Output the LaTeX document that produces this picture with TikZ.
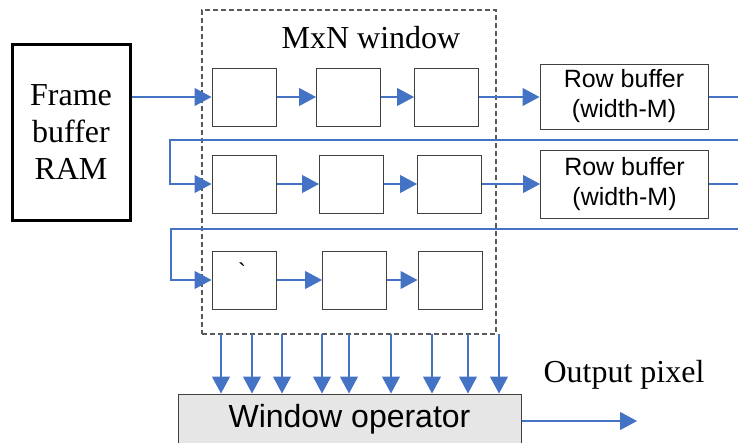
\documentclass[tikz,border=0pt]{standalone}
\usepackage{fontspec}
\setmainfont{Liberation Serif}
\setsansfont{Liberation Sans}
\newfontfamily\ticksans{Liberation Sans}
\usetikzlibrary{arrows.meta}
\definecolor{wire}{HTML}{4472C4}
\definecolor{edge}{HTML}{404040}
\definecolor{dashc}{HTML}{5A5A5A}
\definecolor{opfill}{HTML}{E6E6E6}
\tikzset{
  cell/.style={draw=edge, line width=1pt, minimum width=64pt, minimum height=58pt, inner sep=0pt},
  rowbuf/.style={draw=edge, line width=1pt, minimum width=168pt, minimum height=65pt, inner sep=0pt,
    align=center, font=\sffamily\fontsize{25}{30}\selectfont},
  wire/.style={draw=wire, line width=1.1pt},
  arr/.style={wire, -{Triangle[length=17pt,width=18pt]}},
  serifbig/.style={font=\rmfamily\fontsize{32}{37}\selectfont}
}
\begin{document}
\begin{tikzpicture}[x=1pt,y=-1pt]
\clip (0,0) rectangle (738,442);
\fill[white] (0,0) rectangle (738,442);

% frame buffer
\node[draw=black, line width=3pt, minimum width=118pt, minimum height=176pt, inner sep=0pt,
      align=center, serifbig] (frame) at (71,132) {Frame\\buffer\\RAM};

% window region
\node[draw=dashc, line width=1.1pt, dash pattern=on 5pt off 3pt, minimum width=294pt,
      minimum height=324pt, inner sep=0pt] (win) at (349,172) {};
\node[serifbig, inner sep=0pt] (title) at (371,38) {MxN window};

% window cells
\node[cell] (r1c1) at (244,97) {};
\node[cell] (r1c2) at (348.5,97) {};
\node[cell] (r1c3) at (446.5,97) {};
\node[cell] (r2c1) at (244,184) {};
\node[cell] (r2c2) at (351.5,184) {};
\node[cell] (r2c3) at (449.5,184) {};
\node[cell] (r3c1) at (244,280) {};
\node[cell] (r3c2) at (354.5,280) {};
\node[cell] (r3c3) at (450,280) {};
\node[font=\ticksans\fontsize{24}{24}\selectfont, inner sep=0pt] (tick) at (242,272) {`};

% row buffers
\node[rowbuf] (rb1) at (624,96.5) {Row buffer\\(width-M)};
\node[rowbuf, minimum height=68pt] (rb2) at (624.5,184) {Row buffer\\(width-M)};

% window operator
\node[draw=edge, line width=1pt, fill=opfill, minimum width=343pt, minimum height=51pt, inner sep=0pt,
      font=\sffamily\fontsize{32}{36}\selectfont] (op) at (349.5,419.5) {Window operator};
\node[serifbig, inner sep=0pt] (outlbl) at (624,374.5) {Output pixel};

% data path, row 1
\draw[arr] (frame.east |- r1c1.west) -- (r1c1.west);
\draw[arr] (r1c1.east) -- (r1c2.west);
\draw[arr] (r1c2.east) -- (r1c3.west);
\draw[arr] (r1c3.east) -- (r1c3.east -| rb1.west);
\coordinate (o1) at (738,97);
\draw[wire] (rb1.east |- o1) -- (o1);

% feedback into row 2
\coordinate (f1) at (738,140);
\coordinate (k1) at (170,140);
\draw[arr] (f1) -- (k1) |- (r2c1.west);
\draw[arr] (r2c1.east) -- (r2c2.west);
\draw[arr] (r2c2.east) -- (r2c3.west);
\draw[arr] (r2c3.east) -- (r2c3.east -| rb2.west);
\coordinate (o2) at (738,184);
\draw[wire] (rb2.east |- o2) -- (o2);

% feedback into row 3
\coordinate (f2) at (738,229);
\coordinate (k2) at (171,229);
\draw[arr] (f2) -- (k2) |- (r3c1.west);
\draw[arr] (r3c1.east) -- (r3c2.west);
\draw[arr] (r3c2.east) -- (r3c3.west);

% taps into the window operator
\foreach \x in {221,252,282,322,349,391,432,468,499}{
  \coordinate (tapA) at (\x,334);
  \draw[arr] (tapA) -- (tapA |- op.north);
}

% output
\coordinate (out) at (637,421);
\draw[arr] (op.east |- out) -- (out);
\end{tikzpicture}
\end{document}
